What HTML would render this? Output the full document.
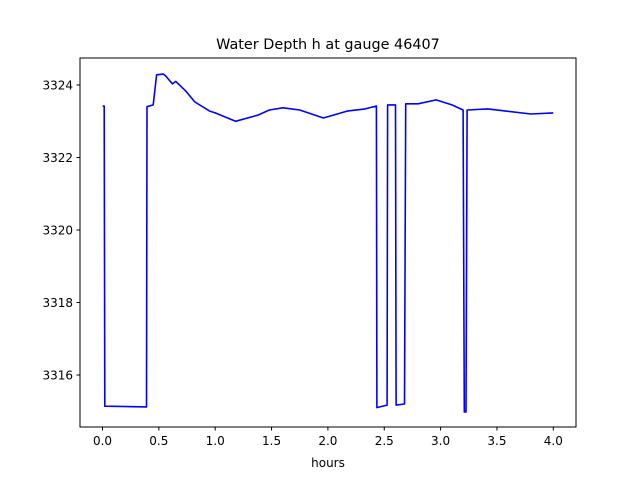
<!DOCTYPE html>
<html><head><meta charset="utf-8"><style>
body{margin:0;background:#fff;font-family:"DejaVu Sans","Liberation Sans",sans-serif;}
text{font-family:"DejaVu Sans","Liberation Sans",sans-serif;}
</style></head><body>
<svg id="chart" width="640" height="480" xmlns="http://www.w3.org/2000/svg">
<rect width="640" height="480" fill="#fff"/>
<text x="328" y="49" font-size="14.4" text-anchor="middle">Water Depth h at gauge 46407</text>
<g id="xt"></g>
<g id="yt"></g>
<path id="line" fill="none" stroke="#0000ff" stroke-width="1.6" stroke-linejoin="round"/>
<rect x="80" y="58" width="496" height="369" fill="none" stroke="#000" stroke-width="1"/>
<text x="328" y="467" font-size="12" text-anchor="middle">hours</text>
</svg>
<script>
const hours=[0,0.015,0.02,0.39,0.395,0.45,0.48,0.54,0.56,0.62,0.65,0.74,0.82,0.95,1.0,1.18,1.38,1.48,1.6,1.75,1.96,2.17,2.33,2.43,2.435,2.525,2.53,2.6,2.605,2.68,2.69,2.8,2.96,3.1,3.2,3.21,3.225,3.235,3.42,3.8,4.0];
const depth=[3323.42,3323.42,3315.14,3315.12,3323.4,3323.45,3324.28,3324.3,3324.25,3324.03,3324.1,3323.83,3323.53,3323.28,3323.23,3323.0,3323.17,3323.31,3323.37,3323.31,3323.09,3323.28,3323.34,3323.42,3315.1,3315.17,3323.45,3323.45,3315.17,3315.2,3323.48,3323.48,3323.59,3323.45,3323.31,3314.98,3314.98,3323.31,3323.34,3323.2,3323.23];
const xTicks=[0,0.5,1,1.5,2,2.5,3,3.5,4];
const xTickLabels=["0.0","0.5","1.0","1.5","2.0","2.5","3.0","3.5","4.0"];
const yTicks=[3316,3318,3320,3322,3324];
const yTickLabels=["3316","3318","3320","3322","3324"];
const X=t=>102.5+112.7*t;
const Y=v=>375-(v-3316)*36.25;
const ns="http://www.w3.org/2000/svg";
const xt=document.getElementById('xt'),yt=document.getElementById('yt');
xTicks.forEach((t,i)=>{
 const l=document.createElementNS(ns,'line');
 
 
 l.setAttribute('x1',X(t));l.setAttribute('x2',X(t));l.setAttribute('y1',427);l.setAttribute('y2',430.5);l.setAttribute('stroke','#000');
 xt.appendChild(l);
 const s=document.createElementNS(ns,'text');
 
 
 s.setAttribute('x',X(t));s.setAttribute('y',445);s.setAttribute('font-size','12');s.setAttribute('text-anchor','middle');
 s.textContent=xTickLabels[i];xt.appendChild(s);
});
yTicks.forEach((v,i)=>{
 const l=document.createElementNS(ns,'line');
 
 
 l.setAttribute('x1',76.5);l.setAttribute('x2',80);l.setAttribute('y1',Y(v));l.setAttribute('y2',Y(v));l.setAttribute('stroke','#000');
 yt.appendChild(l);
 const s=document.createElementNS(ns,'text');
 
 
 s.setAttribute('x',73);s.setAttribute('y',Y(v)+4.5);s.setAttribute('font-size','12');s.setAttribute('text-anchor','end');
 s.textContent=yTickLabels[i];yt.appendChild(s);
});
document.getElementById('line').setAttribute('d',hours.map((t,i)=>(i?'L':'M')+X(t).toFixed(1)+' '+Y(depth[i]).toFixed(1)).join(' '));
</script>
</body></html>
